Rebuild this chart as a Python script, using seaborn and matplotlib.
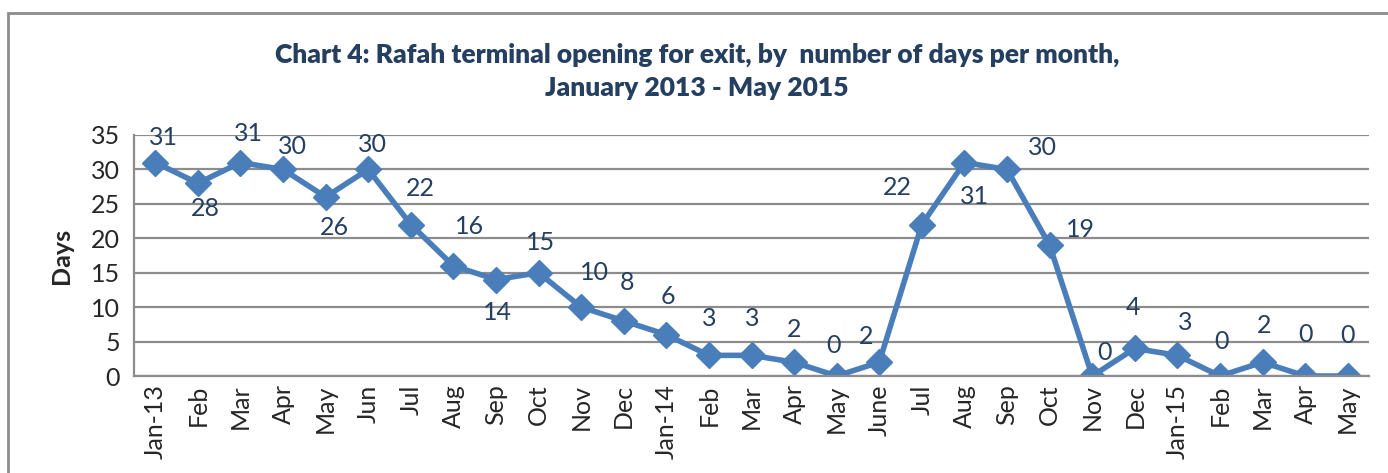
import matplotlib
matplotlib.use("Agg")
import matplotlib.pyplot as plt
import seaborn as sns
import pandas as pd
from matplotlib.patches import Rectangle

months = ["Jan-13", "Feb", "Mar", "Apr", "May", "Jun", "Jul", "Aug", "Sep", "Oct",
          "Nov", "Dec", "Jan-14", "Feb", "Mar", "Apr", "May", "June", "Jul", "Aug",
          "Sep", "Oct", "Nov", "Dec", "Jan-15", "Feb", "Mar", "Apr", "May"]
days = [31, 28, 31, 30, 26, 30, 22, 16, 14, 15, 10, 8, 6, 3, 3, 2, 0, 2, 22, 31,
        30, 19, 0, 4, 3, 0, 2, 0, 0]
yticks = [0, 5, 10, 15, 20, 25, 30, 35]

# label offsets in pixels (dx, dy; dy positive = up)
label_dx = [8, 7, 8, 9, 9, 4, 10, 16, 1, 2, 13, 3, 2, 0, 1, 0, -3, -13, -24, 10,
            35, 31, 12, -2, 8, 2, 2, 0, 0]
label_dy = [25, -25, 29, 23, -31, 25, 36, 39, -33, 30, 35, 38, 38, 37, 37, 33, 31, 26, 37, -34,
            22, 16, 24, 41, 33, 35, 37, 42, 41]

sns.set_style("white")
plt.rcParams["font.family"] = ["Lato", "DejaVu Sans"]

df = pd.DataFrame({"idx": range(len(days)), "days": days})

fig = plt.figure(figsize=(13.88, 4.73), dpi=100)
ax = fig.add_axes([134/1388, 1 - 376/473, (1369 - 134)/1388, (376 - 135)/473])

# outer chart border
fig.patches.append(Rectangle((8/1388, -0.1), 1.2, 1 - 13/473 + 0.1, transform=fig.transFigure,
                             fill=False, edgecolor="#8c8c8c", linewidth=2))

line_color = "#4A7EBB"
sns.lineplot(data=df, x="idx", y="days", ax=ax, color=line_color, linewidth=4,
             marker="D", markersize=13, markeredgecolor=line_color, markeredgewidth=1)

ax.set_xlim(-0.5, len(days) - 0.5)
ax.set_ylim(0, 35)
ax.set_yticks(yticks)
ax.set_yticklabels([str(t) for t in yticks], fontsize=18)
ax.set_xticks(range(len(months)))
ax.set_xticklabels(months, rotation=90, fontsize=18)
ax.tick_params(axis="both", length=0, pad=6)
ax.tick_params(axis="y", pad=10)
ax.yaxis.grid(True, color="#8c8c8c", linewidth=1.6)
ax.set_axisbelow(True)
for s in ["right", "top"]:
    ax.spines[s].set_visible(False)
for s in ["left", "bottom"]:
    ax.spines[s].set_color("#8c8c8c")
    ax.spines[s].set_linewidth(1.6)

ax.set_xlabel("")
ax.set_ylabel("Days", fontsize=18, fontweight="bold")
ax.yaxis.set_label_coords(-61/1235, 0.5)

for i, v in enumerate(days):
    ax.annotate(str(v), (i, v), xytext=(label_dx[i] * 0.72, label_dy[i] * 0.72),
                textcoords="offset points", ha="center", va="center",
                fontsize=18, color="#243F60")

fig.text(697/1388, 1 - 55/473, "Chart 4: Rafah terminal opening for exit, by  number of days per month,",
         ha="center", va="center", fontsize=19, fontweight="heavy", color="#243F60")
fig.text(697/1388, 1 - 88/473, "January 2013 - May 2015",
         ha="center", va="center", fontsize=19, fontweight="heavy", color="#243F60")

fig.savefig("out.png", dpi=100)
